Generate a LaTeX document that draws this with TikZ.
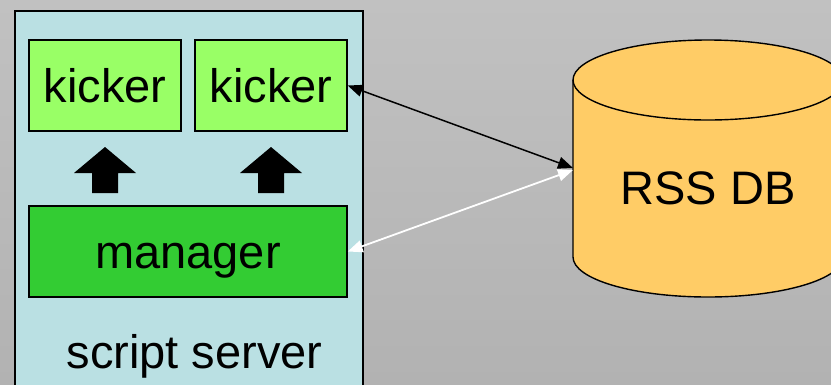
\documentclass[tikz,border=0pt]{standalone}
\usepackage{fontspec}
\setmainfont{Liberation Sans}
\usetikzlibrary{arrows.meta}
\definecolor{bgtop}{HTML}{C1C1C1}
\definecolor{bgbot}{HTML}{B2B2B2}
\definecolor{serverfill}{HTML}{BAE0E3}
\definecolor{kickerfill}{HTML}{99FF66}
\definecolor{managerfill}{HTML}{33CC33}
\definecolor{dbfill}{HTML}{FFCC66}
\tikzset{
  label47/.style={font=\fontsize{47}{56}\selectfont, text height=42pt, text depth=8pt, inner sep=0pt},
  box/.style={draw=black, line width=1.4pt, inner sep=0pt, label47},
  link/.style={line width=1.5pt, {Triangle[length=15pt,width=12pt]}-{Triangle[length=15pt,width=12pt]}},
  blockup/.pic={\fill[black] (0,0) -- (31,26) -- (13,26) -- (13,46) -- (-13,46) -- (-13,26) -- (-31,26) -- cycle;}
}
\begin{document}
\begin{tikzpicture}[x=1pt,y=-1pt]
  \useasboundingbox (0,0) rectangle (831,384);
  \clip (0,0) rectangle (831,384);
  \shade[top color=bgtop, bottom color=bgbot] (0,0) rectangle (831,384);

  % script server container
  \node[draw=black, line width=1.8pt, fill=serverfill, minimum width=348pt, minimum height=420pt,
        inner sep=0pt, anchor=north west] (server) at (14,10) {};
  \node[label47] (serverlbl) at (194.5,351) {script server};

  % kickers and manager
  \node[box, fill=kickerfill, minimum width=152pt, minimum height=91pt] (k1) at (105,85.5) {kicker};
  \node[box, fill=kickerfill, minimum width=152pt, minimum height=91pt] (k2) at (271,85.5) {kicker};
  \node[box, fill=managerfill, minimum width=318pt, minimum height=91pt] (mgr) at (188,251.5) {manager};

  % block arrows from manager up to each kicker
  \pic at (105,147) {blockup};
  \pic at (271,147) {blockup};

  % database cylinder
  \fill[dbfill] (573,80) -- (573,257) arc[start angle=180, end angle=360, x radius=135, y radius=-40]
        -- (843,80) arc[start angle=0, end angle=180, x radius=135, y radius=-40] -- cycle;
  \draw[line width=1.4pt] (573,80) -- (573,257) arc[start angle=180, end angle=360, x radius=135, y radius=-40]
        -- (843,80);
  \draw[line width=1.4pt] (708,80) ellipse[x radius=135, y radius=40];
  \node[label47] (db) at (708,187) {RSS DB};
  \coordinate (dbA) at (573,168);
  \coordinate (dbB) at (573,170);

  % links to the database
  \draw[link, black] (k2.east) -- (dbA);
  \draw[link, white, line width=1.8pt] (mgr.east) -- (dbB);
\end{tikzpicture}
\end{document}
